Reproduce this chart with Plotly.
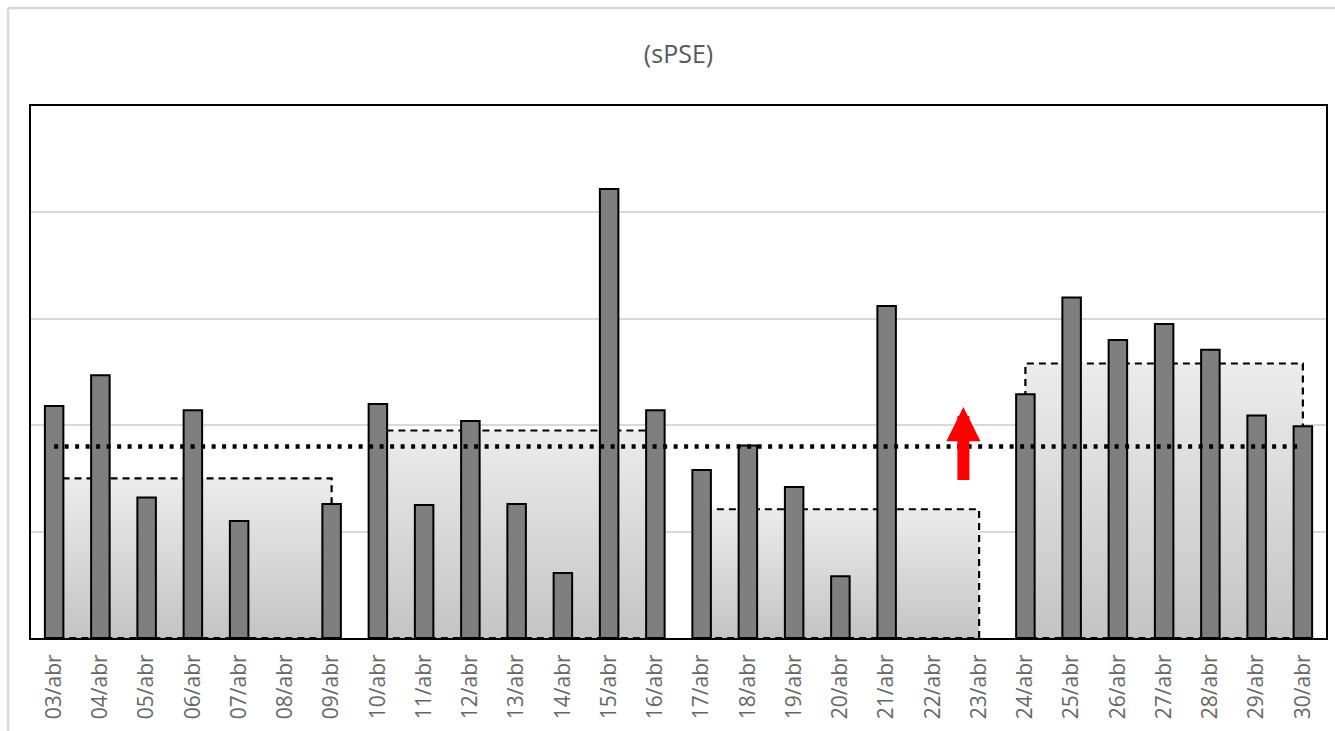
import plotly.graph_objects as go

days = ["03/abr", "04/abr", "05/abr", "06/abr", "07/abr", "08/abr", "09/abr",
        "10/abr", "11/abr", "12/abr", "13/abr", "14/abr", "15/abr", "16/abr",
        "17/abr", "18/abr", "19/abr", "20/abr", "21/abr", "22/abr", "23/abr",
        "24/abr", "25/abr", "26/abr", "27/abr", "28/abr", "29/abr", "30/abr"]
values = [2.18, 2.47, 1.32, 2.14, 1.10, None, 1.26,
          2.20, 1.25, 2.04, 1.26, 0.61, 4.22, 2.14,
          1.58, 1.81, 1.42, 0.58, 3.12, None, None,
          2.29, 3.20, 2.80, 2.95, 2.71, 2.09, 1.99]
week_start = ["03/abr", "10/abr", "17/abr", "24/abr"]
week_end = ["09/abr", "16/abr", "23/abr", "30/abr"]
week_avg = [1.50, 1.95, 1.21, 2.58]
overall_avg = 1.80
arrow_pos = 19.66
arrow_tip = 2.17
arrow_base = 1.47

fig = go.Figure()

# weekly average blocks (main axes, drawn below the bars)
for s, e, a in zip(week_start, week_end, week_avg):
    fig.add_trace(go.Scatter(
        x=[s, s, e, e, s], y=[0, a, a, 0, 0],
        mode="lines", fill="toself",
        fillgradient=dict(type="vertical",
                          colorscale=[[0, "#c4c4c4"], [1, "#ececec"]]),
        line=dict(color="black", dash="7px,5px", width=2.2),
        hoverinfo="skip", showlegend=False,
        xaxis="x", yaxis="y"))

# daily bars (overlay axes, drawn on top)
fig.add_trace(go.Bar(
    x=days, y=values, width=0.4,
    marker=dict(color="#7f7f7f", line=dict(color="black", width=2)),
    showlegend=False, xaxis="x2", yaxis="y2"))

# overall average dotted line
fig.add_trace(go.Scatter(
    x=[days[0], days[-1]], y=[overall_avg, overall_avg],
    mode="lines", line=dict(color="black", dash="4px,6.5px", width=4.5),
    showlegend=False, hoverinfo="skip", xaxis="x2", yaxis="y2"))

xr = [-0.5, len(days) - 0.5]
yr = [0, 5]

fig.update_layout(
    width=1335, height=731,
    margin=dict(l=31, r=7, t=106, b=93),
    paper_bgcolor="white", plot_bgcolor="white",
    font=dict(family="Open Sans, Liberation Sans, sans-serif", color="#595959"),
    title=dict(text="(sPSE)", x=0.5, xref="paper", xanchor="center",
               y=0.926, yanchor="middle",
               font=dict(size=25, color="#595959")),
    xaxis=dict(type="category", categoryorder="array", categoryarray=days,
               range=xr, showline=True, linecolor="black", linewidth=2,
               mirror=True, showgrid=False, ticks="", tickangle=-90,
               tickfont=dict(size=21, color="#666666"), ticklabelstandoff=6),
    yaxis=dict(range=yr, dtick=1, showticklabels=False, showline=True,
               linecolor="black", linewidth=2, mirror=True, showgrid=True,
               gridcolor="#d9d9d9", gridwidth=2, zeroline=False, ticks=""),
    xaxis2=dict(type="category", categoryorder="array", categoryarray=days,
                range=xr, overlaying="x", visible=False),
    yaxis2=dict(range=yr, overlaying="y", visible=False),
    bargap=0.6,
    annotations=[dict(x=arrow_pos, y=arrow_tip, ax=arrow_pos, ay=arrow_base,
                      xref="x", yref="y", axref="x", ayref="y", text="",
                      showarrow=True, arrowhead=2, arrowsize=0.57,
                      arrowwidth=12, arrowcolor="#ff0000", standoff=0)],
    shapes=[
        dict(type="line", xref="paper", yref="paper", x0=-0.0177, x1=1.01,
             y0=1.184, y1=1.184, line=dict(color="#d9d9d9", width=2.5)),
        dict(type="line", xref="paper", yref="paper", x0=-0.0177, x1=-0.0177,
             y0=1.184, y1=-0.18, line=dict(color="#d9d9d9", width=2.5)),
    ],
)

fig.write_html("out.html")
